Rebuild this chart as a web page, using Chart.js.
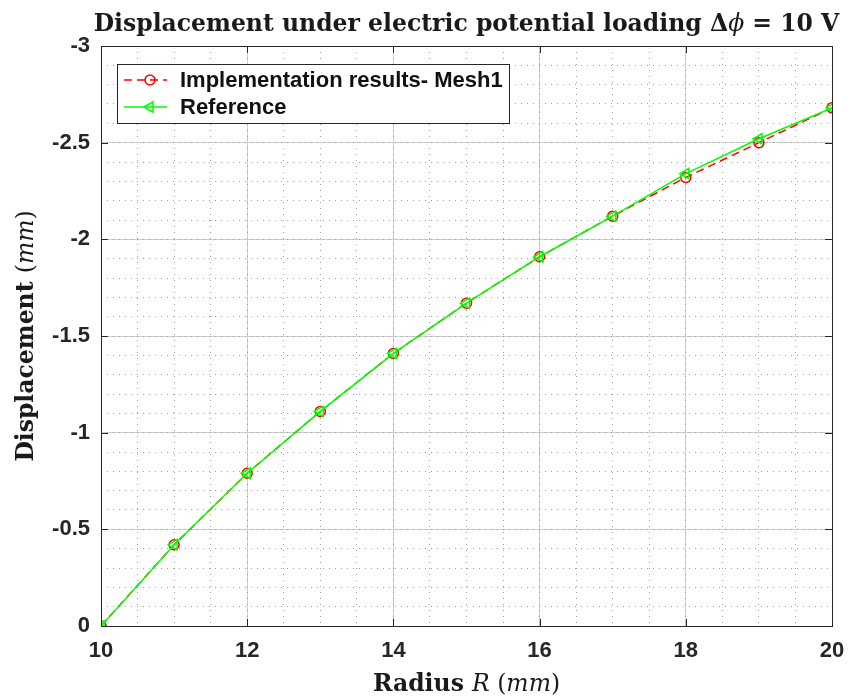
<!DOCTYPE html>
<html>
<head>
<meta charset="utf-8">
<script src="https://cdn.jsdelivr.net/npm/chart.js@4.4.0/dist/chart.umd.min.js"></script>
<style>
  html, body { margin: 0; padding: 0; background: #fff; }
  #wrap { width: 851px; height: 698px; }
</style>
</head>
<body>
<div id="wrap"><canvas id="chart"></canvas></div>
<script>
// data
const radius = [10, 11, 12, 13, 14, 15, 16, 17, 18, 19, 20];
const mesh1 = [0, -0.42, -0.79, -1.11, -1.41, -1.67, -1.91, -2.12, -2.32, -2.50, -2.68];
const reference = [0, -0.42, -0.79, -1.11, -1.41, -1.67, -1.91, -2.12, -2.34, -2.52, -2.68];
const xTicks = [10, 12, 14, 16, 18, 20];
const yTicks = [-3, -2.5, -2, -1.5, -1, -0.5, 0];
const seriesNames = ["Implementation results- Mesh1", "Reference"];

const tickFont = { family: "'Liberation Sans', Arial, sans-serif", size: 22, weight: "bold" };
const SERIF = "'DejaVu Serif', 'Liberation Serif', serif";
const SZ = "23.5px ";
const gridMajor = "#cfcfcf";
const gridMinor = "#a0a0a0";

const toPoints = (xs, ys) => xs.map((x, i) => ({ x: x, y: ys[i] }));

const data = {
  datasets: [
    {
      label: seriesNames[0],
      data: toPoints(radius, mesh1),
      borderColor: "rgb(255, 0, 0)",
      backgroundColor: "rgba(0,0,0,0)",
      borderWidth: 1.5,
      borderDash: [8, 5],
      pointStyle: "circle",
      pointRadius: 5,
      pointBorderWidth: 1.5,
      pointBorderColor: "rgb(255, 0, 0)",
      pointBackgroundColor: "rgba(0,0,0,0)",
      order: 1,
    },
    {
      label: seriesNames[1],
      data: toPoints(radius, reference),
      borderColor: "rgb(0, 255, 0)",
      backgroundColor: "rgba(0,0,0,0)",
      borderWidth: 1.5,
      pointStyle: "triangle",
      pointRotation: -90,
      pointRadius: 6,
      pointBorderWidth: 1.5,
      pointBorderColor: "rgb(0, 255, 0)",
      pointBackgroundColor: "rgba(0,0,0,0)",
      order: 0,
    },
  ],
};

// draws a list of [text, font] pieces, centred on x
function drawParts(ctx, parts, x, y) {
  let total = 0;
  parts.forEach((p) => { ctx.font = p[1]; total += ctx.measureText(p[0]).width; });
  let cx = x - total / 2;
  ctx.textAlign = "left";
  ctx.textBaseline = "alphabetic";
  parts.forEach((p) => {
    ctx.font = p[1];
    ctx.fillText(p[0], cx, y);
    cx += ctx.measureText(p[0]).width;
  });
}

const decor = {
  id: "decor",
  afterDatasetsDraw(chart) {
    const { ctx, chartArea: a, scales } = chart;
    ctx.save();
    ctx.strokeStyle = "#262626";
    ctx.lineWidth = 1;
    // inward tick marks, matlab style
    const tl = 7;
    ctx.beginPath();
    xTicks.forEach((v) => {
      const px = Math.round(scales.x.getPixelForValue(v)) + 0.5;
      ctx.moveTo(px, a.bottom); ctx.lineTo(px, a.bottom - tl);
      ctx.moveTo(px, a.top); ctx.lineTo(px, a.top + tl);
    });
    yTicks.forEach((v) => {
      const py = Math.round(scales.y.getPixelForValue(v)) + 0.5;
      ctx.moveTo(a.left, py); ctx.lineTo(a.left + tl, py);
      ctx.moveTo(a.right, py); ctx.lineTo(a.right - tl, py);
    });
    ctx.stroke();
    ctx.strokeRect(Math.round(a.left) + 0.5, Math.round(a.top) + 0.5,
      Math.round(a.right - a.left), Math.round(a.bottom - a.top));
    ctx.restore();
  },
  afterDraw(chart) {
    const { ctx, chartArea: a } = chart;
    ctx.save();
    ctx.fillStyle = "#1a1a1a";
    const midX = (a.left + a.right) / 2;

    // title
    drawParts(ctx, [
      ["Displacement under electric potential loading \u0394", "bold " + SZ + SERIF],
      ["\u03d5", "italic " + SZ + SERIF],
      [" = 10 V", "bold " + SZ + SERIF],
    ], midX, 31);

    // x title
    drawParts(ctx, [
      ["Radius ", "bold " + SZ + SERIF],
      ["R", "italic " + SZ + SERIF],
      [" (", SZ + SERIF],
      ["mm", "italic " + SZ + SERIF],
      [")", SZ + SERIF],
    ], midX, 691);

    // y title
    ctx.save();
    ctx.translate(33, (a.top + a.bottom) / 2);
    ctx.rotate(-Math.PI / 2);
    drawParts(ctx, [
      ["Displacement ", "bold " + SZ + SERIF],
      ["(", SZ + SERIF],
      ["mm", "italic " + SZ + SERIF],
      [")", SZ + SERIF],
    ], 0, 0);
    ctx.restore();

    // legend box
    const bx = a.left + 16, by = a.top + 18, bw = 392, bh = 59;
    ctx.fillStyle = "#fff";
    ctx.fillRect(bx, by, bw, bh);
    ctx.strokeStyle = "#262626";
    ctx.lineWidth = 1;
    ctx.strokeRect(Math.round(bx) + 0.5, Math.round(by) + 0.5, bw, bh);
    chart.data.datasets.forEach((ds, i) => {
      const ry = by + 16 + i * 27;
      const lx = bx + 7;
      ctx.save();
      ctx.strokeStyle = ds.borderColor;
      ctx.lineWidth = ds.borderWidth;
      ctx.setLineDash(ds.borderDash || []);
      ctx.beginPath();
      ctx.moveTo(lx, ry); ctx.lineTo(lx + 43, ry);
      ctx.stroke();
      ctx.setLineDash([]);
      ctx.fillStyle = "rgba(0,0,0,0)";
      ctx.strokeStyle = ds.pointBorderColor;
      ctx.lineWidth = ds.pointBorderWidth;
      Chart.helpers.drawPoint(ctx, {
        pointStyle: ds.pointStyle,
        rotation: ds.pointRotation || 0,
        radius: ds.pointRadius,
        borderWidth: ds.pointBorderWidth,
      }, lx + 26, ry);
      ctx.restore();
      ctx.fillStyle = "#111";
      ctx.font = "bold 22px 'Liberation Sans', Arial, sans-serif";
      ctx.textAlign = "left";
      ctx.textBaseline = "middle";
      ctx.fillText(ds.label, bx + 63, ry + 1);
    });
    ctx.restore();
  },
};

const config = {
  type: "line",
  data: data,
  options: {
    responsive: true,
    maintainAspectRatio: false,
    animation: false,
    layout: { padding: { top: 46, right: 19, left: 0, bottom: 0 } },
    plugins: {
      legend: { display: false },
      title: { display: false },
      tooltip: { enabled: false },
    },
    scales: {
      x: {
        type: "linear",
        min: 10,
        max: 20,
        afterBuildTicks: (s) => { s.ticks = xTicks.map((v) => ({ value: v })); },
        afterFit: (s) => { s.height = 72; s.paddingLeft = 0; s.paddingRight = 0; },
        ticks: { font: tickFont, color: "#262626", padding: 12, callback: (v) => String(v) },
        grid: { color: gridMajor, lineWidth: 1, drawTicks: false },
        border: { display: false },
      },
      xMinor: {
        type: "linear",
        position: "bottom",
        min: 10,
        max: 20,
        ticks: { display: false, stepSize: 0.5 },
        afterFit: (s) => { s.height = 0; s.paddingLeft = 0; s.paddingRight = 0; },
        grid: { color: gridMinor, lineWidth: 1, drawTicks: false },
        border: { display: false, dash: [1, 5] },
      },
      y: {
        type: "linear",
        reverse: true,
        min: -3,
        max: 0,
        afterBuildTicks: (s) => { s.ticks = yTicks.map((v) => ({ value: v })); },
        afterFit: (s) => { s.width = 101; s.paddingTop = 0; s.paddingBottom = 0; },
        ticks: { font: tickFont, color: "#262626", padding: 11, callback: (v) => String(v) },
        grid: { color: gridMajor, lineWidth: 1, drawTicks: false },
        border: { display: false },
      },
      yMinor: {
        type: "linear",
        position: "left",
        reverse: true,
        min: -3,
        max: 0,
        ticks: { display: false, stepSize: 0.1 },
        afterFit: (s) => { s.width = 0; s.paddingTop = 0; s.paddingBottom = 0; },
        grid: { color: gridMinor, lineWidth: 1, drawTicks: false },
        border: { display: false, dash: [1, 5] },
      },
    },
  },
  plugins: [decor],
};

const myChart = new Chart(document.getElementById("chart"), config);
</script>
</body>
</html>
